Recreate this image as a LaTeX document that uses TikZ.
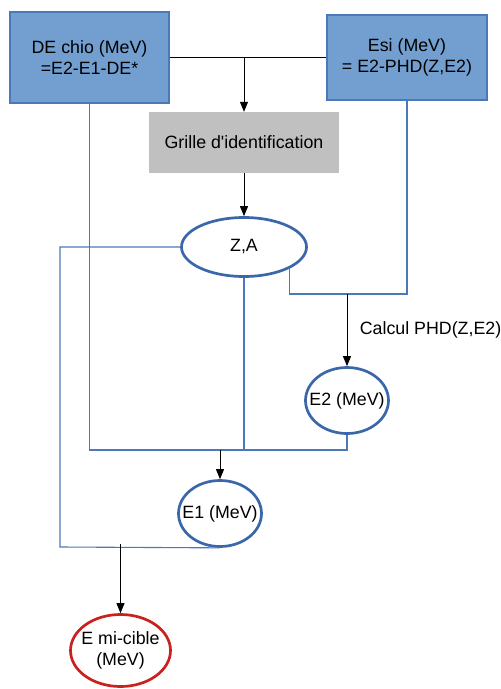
\documentclass[tikz,border=0pt]{standalone}
\usepackage{fontspec}
\setmainfont{Liberation Sans}
\usetikzlibrary{arrows.meta,shapes.geometric}
\definecolor{boxblue}{HTML}{729FCF}
\definecolor{edgeblue}{HTML}{4A78B8}
\definecolor{ringblue}{HTML}{3A67AA}
\definecolor{ringred}{HTML}{C9211E}
\definecolor{grillegray}{HTML}{C0C0C0}
\tikzset{
  databox/.style={draw=edgeblue, line width=1.2pt, fill=boxblue, align=center, inner sep=0pt},
  grillebox/.style={fill=grillegray, inner sep=0pt},
  result/.style={ellipse, draw=ringblue, line width=2.7pt, align=center, inner sep=0pt},
  link/.style={draw=edgeblue, line width=1.1pt},
  flow/.style={->, line width=1pt}
}
% texte plus large que sa boite, pour que l'ellipse colle au texte
\newcommand{\snug}[2][50pt]{\makebox[#1]{#2}}
\begin{document}
\begin{tikzpicture}[x=1pt, y=-1pt, >={Triangle[length=10pt,width=8pt]},
    every node/.style={font=\fontsize{17.8}{20.5}\selectfont}]
  \useasboundingbox (0,0) rectangle (501,689);

  % ---- donnees d'entree ----
  \node[databox, minimum width=159pt, minimum height=91pt] (dechio) at (89.5,57.5) {DE chio (MeV)\\=E2-E1-DE*};
  \node[databox, minimum width=160pt, minimum height=85pt] (esi) at (407,57.5) {Esi (MeV)\\= E2-PHD(Z,E2)};
  \node[grillebox, minimum width=190pt, minimum height=61pt] (grille) at (244,142.5) {Grille d\textquotesingle identification};

  % ---- grandeurs calculees ----
  \node[result, minimum width=125pt, minimum height=59pt] (za) at (244,247) {Z,A};
  \node[result, minimum width=83pt, minimum height=66pt] (e2) at (347,400.5) {\snug{E2 (MeV)}};
  \node[result, minimum width=83pt, minimum height=66pt] (e1) at (220,513.5) {\snug{E1 (MeV)}};
  \node[result, draw=ringred, minimum width=100pt, minimum height=72pt] (emc) at (120.5,650.5)
    {\snug[60pt]{E mi-cible}\\\snug[60pt]{(MeV)}};

  % points de jonction
  \coordinate (top) at (244,57.5);
  \coordinate (phd) at (347,294);
  \coordinate (merge) at (220,450);
  \coordinate (leftcorner) at (60,547);
  \coordinate (tap) at (120.5,547);

  % ---- liaisons ----
  \draw[line width=1pt] (dechio.east) -- (esi.west);
  \draw[flow] (top) -- (grille.north);
  \draw[flow] (grille.south) -- (za.north);

  \draw[link] (za.south east) |- (phd) -| (esi.south);
  \draw[flow] (phd) -- node[right, xshift=9pt] {Calcul PHD(Z,E2)} (e2.north);

  \draw[link] (dechio.south) |- (merge) -| (e2.south);
  \draw[link] (za.south) -- (za.south |- merge);
  \draw[flow] (merge) -- (e1.north);

  \draw[link] (za.west) -| (leftcorner) -- (e1.south);
  \draw[flow] ([yshift=3pt]tap) -- (emc.north);
\end{tikzpicture}
\end{document}
